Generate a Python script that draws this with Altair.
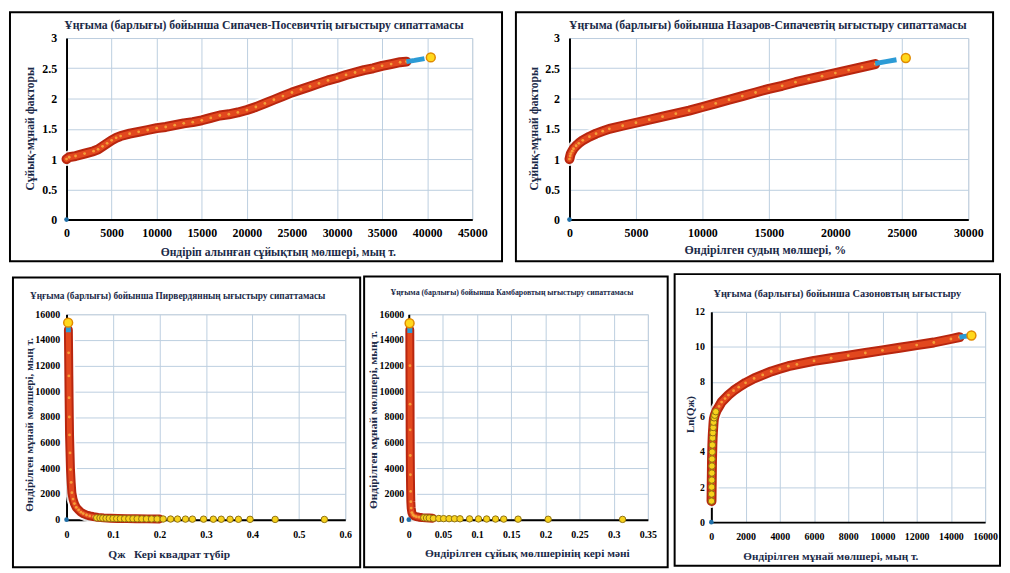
import altair as alt
import pandas as pd

# ---------------- data ----------------
# Panel 1: Sipachev-Posevich
sp_x = [0, 300, 1000, 2000, 3000, 3500, 4000, 4500, 5000, 5500, 6000, 7000, 8000, 9000, 10000,
        11000, 12000, 13000, 14000, 15000, 16000, 17000, 18000, 19000, 20000, 21000, 22000,
        23000, 24000, 25000, 26000, 27000, 28000, 29000, 30000, 31000, 32000, 33000, 34000,
        35000, 36000, 37000, 37700]
sp_y = [1.00, 1.03, 1.05, 1.09, 1.13, 1.16, 1.21, 1.26, 1.31, 1.35, 1.38, 1.42, 1.45, 1.48, 1.51,
        1.53, 1.56, 1.59, 1.61, 1.64, 1.68, 1.72, 1.74, 1.77, 1.81, 1.86, 1.92, 1.98, 2.04,
        2.10, 2.15, 2.20, 2.25, 2.30, 2.34, 2.39, 2.43, 2.47, 2.50, 2.54, 2.57, 2.60, 2.61]
sp_blue_x = [37700, 38600, 39700]
sp_blue_y = [2.61, 2.63, 2.66]
sp_end_x = [40400]
sp_end_y = [2.68]

# Panel 2: Nazarov-Sipachev
ns_x = [0, 50, 100, 200, 300, 500, 700, 1000, 1500, 2000, 2500, 3000, 4000, 5000, 6000, 7000,
        8000, 9000, 10000, 11000, 12000, 13000, 14000, 15000, 16000, 17000, 18000, 19000,
        20000, 21000, 22000, 23000]
ns_y = [1.00, 1.05, 1.09, 1.13, 1.17, 1.22, 1.26, 1.31, 1.37, 1.42, 1.46, 1.50, 1.55, 1.60, 1.65,
        1.70, 1.75, 1.80, 1.86, 1.92, 1.98, 2.04, 2.10, 2.16, 2.21, 2.27, 2.32, 2.37, 2.42,
        2.47, 2.52, 2.57]
ns_blue_x = [23000, 23800, 24600]
ns_blue_y = [2.58, 2.61, 2.64]
ns_end_x = [25300]
ns_end_y = [2.67]

# Panel 3: Pirverdyan
pv_x = [0.004, 0.0045, 0.005, 0.0055, 0.006, 0.0065, 0.0075, 0.0085, 0.01, 0.0115, 0.014, 0.017,
        0.021, 0.026, 0.031, 0.036, 0.043, 0.05, 0.058, 0.068, 0.08, 0.095, 0.11, 0.13, 0.15,
        0.175, 0.2]
pv_y = [14800, 13000, 11200, 9500, 8000, 6600, 5200, 3900, 2900, 2100, 1600, 1250, 950, 750, 580,
        470, 360, 290, 230, 180, 140, 115, 95, 80, 70, 60, 55]
pv_blue_x = [0.0038, 0.0040]
pv_blue_y = [15100, 14600]
pv_end_x = [0.0035]
pv_end_y = [15350]
pv_tail_x = [0.065, 0.072, 0.078, 0.085, 0.092, 0.1, 0.108, 0.116, 0.125, 0.134, 0.143, 0.152,
             0.162, 0.172, 0.183, 0.195, 0.208, 0.224, 0.239, 0.256, 0.271, 0.295, 0.316, 0.333,
             0.352, 0.370, 0.395, 0.449, 0.555]
pv_tail_y = [140, 130, 120, 110, 100, 90, 85, 80, 75, 70, 68, 65, 60, 58, 55, 52, 50, 48, 45, 42,
             40, 38, 35, 33, 30, 28, 25, 20, 15]

# Panel 4: Kambarov
kb_x = [0.0015, 0.0017, 0.0019, 0.002, 0.0022, 0.0024, 0.0027, 0.003, 0.0035, 0.0045, 0.006,
        0.008, 0.011, 0.015, 0.02, 0.025, 0.03, 0.035]
kb_y = [14800, 12000, 9000, 7000, 5000, 3500, 2200, 1400, 900, 550, 380, 290, 230, 190, 160,
        140, 125, 110]
kb_blue_x = [0.0015, 0.0016]
kb_blue_y = [15050, 14550]
kb_end_x = [0.0012]
kb_end_y = [15300]
kb_tail_x = [0.022, 0.026, 0.030, 0.036, 0.044, 0.051, 0.059, 0.067, 0.075, 0.089, 0.102, 0.114,
             0.127, 0.139, 0.160, 0.204, 0.313]
kb_tail_y = [150, 135, 125, 100, 90, 80, 75, 70, 65, 60, 55, 50, 45, 42, 38, 30, 20]

# Panel 5: Sazonov
sz_x = [10, 15, 20, 25, 30, 35, 40, 50, 60, 75, 90, 110, 130, 150, 200, 300, 450, 600, 800, 1000,
        1300, 1600, 2000, 2500, 3000, 3500, 4000, 4500, 5000, 6000, 7000, 8000, 9000, 10000,
        11000, 12000, 13000, 14000, 14500]
sz_y = [1.2, 1.6, 2.0, 2.4, 2.8, 3.2, 3.6, 4.0, 4.4, 4.8, 5.1, 5.4, 5.7, 5.9, 6.1, 6.35, 6.6,
        6.85, 7.05, 7.25, 7.5, 7.7, 7.95, 8.2, 8.4, 8.6, 8.75, 8.9, 9.0, 9.2, 9.35, 9.5, 9.65,
        9.8, 9.95, 10.1, 10.25, 10.45, 10.55]
sz_blue_x = [14500, 14800, 15000]
sz_blue_y = [10.55, 10.6, 10.62]
sz_end_x = [15200]
sz_end_y = [10.65]
sz_tail_x = [10, 15, 20, 25, 30, 35, 40, 50, 60, 75, 90, 110, 130, 160, 200, 260]
sz_tail_y = [1.2, 1.6, 2.0, 2.4, 2.8, 3.2, 3.6, 4.0, 4.4, 4.8, 5.1, 5.4, 5.7, 5.95, 6.1, 6.3]

# ---------------- styling ----------------
FONT = "Liberation Serif"
BG = "#d5e5f3"
GRID = "#bccee0"
TITLE_C = "#1b2a48"
LABEL_EXPR = "'' + datum.value"


def df(xs, ys):
    return pd.DataFrame({"x": xs, "y": ys})


def panel(main, blue, end, tail, xdom, xvals, ydom, yvals, w, h,
          title, tsize, tpos, xtitle, ytitle, lsize, atsize, ytsize, frame,
          xt_pos, yt_pos, xlpad, ylpad, band=9):
    common = dict(grid=True, gridColor=GRID, gridWidth=1, domainColor="black",
                  domainWidth=2, ticks=False, tickSize=0, labelExpr=LABEL_EXPR,
                  labelFont=FONT, labelFontWeight="bold", labelFontSize=lsize,
                  labelColor="black", titleFont=FONT, titleFontWeight="bold",
                  titleColor=TITLE_C, labelFlush=False, titleBaseline="middle",
                  titleAlign="center")
    xaxis = dict(values=xvals, title=xtitle, labelPadding=xlpad, titleFontSize=atsize,
                 titleX=xt_pos[0], titleY=xt_pos[1], **common)
    yaxis = dict(values=yvals, title=ytitle, labelPadding=ylpad, titleFontSize=ytsize,
                 titleX=yt_pos[0], titleY=yt_pos[1], **common)
    xenc = alt.X("x:Q", scale=alt.Scale(domain=xdom, nice=False, zero=False),
                 axis=alt.Axis(**xaxis))
    yenc = alt.Y("y:Q", scale=alt.Scale(domain=ydom, nice=False, zero=False),
                 axis=alt.Axis(**yaxis))

    one = pd.DataFrame({"k": [0]})
    fl, fr, ft, fb = frame
    frame_layer = alt.Chart(one).mark_rect(
        fillOpacity=0, stroke="black", strokeWidth=2
    ).encode(x=alt.value(fl), x2=alt.value(w + fr), y=alt.value(ft), y2=alt.value(h + fb))
    title_layer = alt.Chart(one).mark_text(
        text=title, font=FONT, fontSize=tsize, fontWeight="bold", color=TITLE_C,
        align="center", baseline="middle"
    ).encode(x=alt.value(tpos[0]), y=alt.value(tpos[1]))

    base = alt.Chart(main).encode(x=xenc, y=yenc)
    layers = [
        frame_layer,
        title_layer,
        base.mark_line(color="white", strokeWidth=band + 5, opacity=0.85,
                       strokeCap="round", strokeJoin="round"),
        base.mark_line(color="#b8260f", strokeWidth=band + 1,
                       strokeCap="round", strokeJoin="round"),
        base.mark_line(color="#e2481e", strokeWidth=band - 3,
                       strokeCap="round", strokeJoin="round"),
        base.mark_circle(size=8, color="#f6a83c", opacity=0.9),
        alt.Chart(blue).mark_line(color="#2b9bd6", strokeWidth=5).encode(x=xenc, y=yenc),
    ]
    if tail is not None:
        layers.append(alt.Chart(tail).mark_point(
            shape="circle", filled=True, fill="#f7d21c", stroke="#8f7012",
            strokeWidth=1, size=42, opacity=1).encode(x=xenc, y=yenc))
    layers.append(alt.Chart(end).mark_point(
        shape="circle", filled=True, fill="#ffd81c", stroke="#e08a00",
        strokeWidth=1.5, size=80, opacity=1).encode(x=xenc, y=yenc))
    layers.append(alt.Chart(df([0], [0])).mark_circle(
        size=22, color="#1f6fa8", opacity=1).encode(x=xenc, y=yenc))

    return alt.layer(*layers).properties(width=w, height=h)


p1 = panel(df(sp_x, sp_y), df(sp_blue_x, sp_blue_y), df(sp_end_x, sp_end_y), None,
           [0, 45000], list(range(0, 45001, 5000)), [0, 3], [0, 0.5, 1, 1.5, 2, 2.5, 3],
           409, 183,
           "Ұңғыма (барлығы) бойынша Сипачев-Посевичтің ығыстыру сипаттамасы", 11.8, (199, -13),
           "Өндіріп алынған сұйықтың мөлшері, мың т.", "Сұйық-мұнай факторы", 12, 11.7, 11.7,
           (-57, 30, -26, 42), (213, 32), (-37, 91), 8, 10)

p2 = panel(df(ns_x, ns_y), df(ns_blue_x, ns_blue_y), df(ns_end_x, ns_end_y), None,
           [0, 30000], list(range(0, 30001, 5000)), [0, 3], [0, 0.5, 1, 1.5, 2, 2.5, 3],
           402, 183,
           "Ұңғыма (барлығы) бойынша Назаров-Сипачевтің ығыстыру сипаттамасы", 11.8, (200, -13),
           "Өндірілген судың мөлшері, %", "Сұйық-мұнай факторы", 12, 12, 11.7,
           (-54, 25, -26, 42), (197, 30), (-36, 91), 8, 10)

p3 = panel(df(pv_x, pv_y), df(pv_blue_x, pv_blue_y), df(pv_end_x, pv_end_y),
           df(pv_tail_x, pv_tail_y),
           [0, 0.6], [0, 0.1, 0.2, 0.3, 0.4, 0.5, 0.6], [0, 16000],
           list(range(0, 16001, 2000)), 281, 207,
           "Ұңғыма (барлығы) бойынша Пирвердянның ығыстыру сипаттамасы", 9.4, (112, -18),
           "Qж\u00a0\u00a0\u00a0Кері квадрат түбір", "Өндірілген мұнай мөлшері, мың т.",
           10, 11.5, 11.2, (-54, 15, -37, 48), (103, 35), (-37, 111), 10, 7, band=8)

p4 = panel(df(kb_x, kb_y), df(kb_blue_x, kb_blue_y), df(kb_end_x, kb_end_y),
           df(kb_tail_x, kb_tail_y),
           [0, 0.35], [0, 0.05, 0.1, 0.15, 0.2, 0.25, 0.3, 0.35], [0, 16000],
           list(range(0, 16001, 2000)), 241, 207,
           "Ұңғыма (барлығы) бойынша Камбаровтың ығыстыру сипаттамасы", 7.9, (104, -21),
           "Өндірілген сұйық мөлшерінің кері мәні", "Өндірілген мұнай мөлшері, мың т.",
           10, 11.5, 11.5, (-45, 20, -38, 48), (119, 34), (-36, 106), 10, 5, band=8)

p5 = panel(df(sz_x, sz_y), df(sz_blue_x, sz_blue_y), df(sz_end_x, sz_end_y),
           df(sz_tail_x, sz_tail_y),
           [0, 16000], list(range(0, 16001, 2000)), [0, 12], [0, 2, 4, 6, 8, 10, 12],
           276, 212,
           "Ұңғыма (барлығы) бойынша Сазоновтың ығыстыру", 10.4, (127, -18),
           "Өндірілген мұнай мөлшері, мың т.", "Ln(Qж)",
           10, 11.3, 11, (-37, 15, -38, 44), (120, 35), (-21, 103), 10, 7, band=9)

top = alt.hconcat(p1, p2, spacing=98, bounds="flush")
bottom = alt.hconcat(p3, p4, p5, spacing=64, bounds="flush", center=True)

chart = alt.vconcat(top, bottom, spacing=9).properties(
    padding=0
).configure_view(
    fill=BG, stroke="black", strokeWidth=2
).configure(background="white")

chart.save("out.html", embed_options={"renderer": "svg", "actions": False})
